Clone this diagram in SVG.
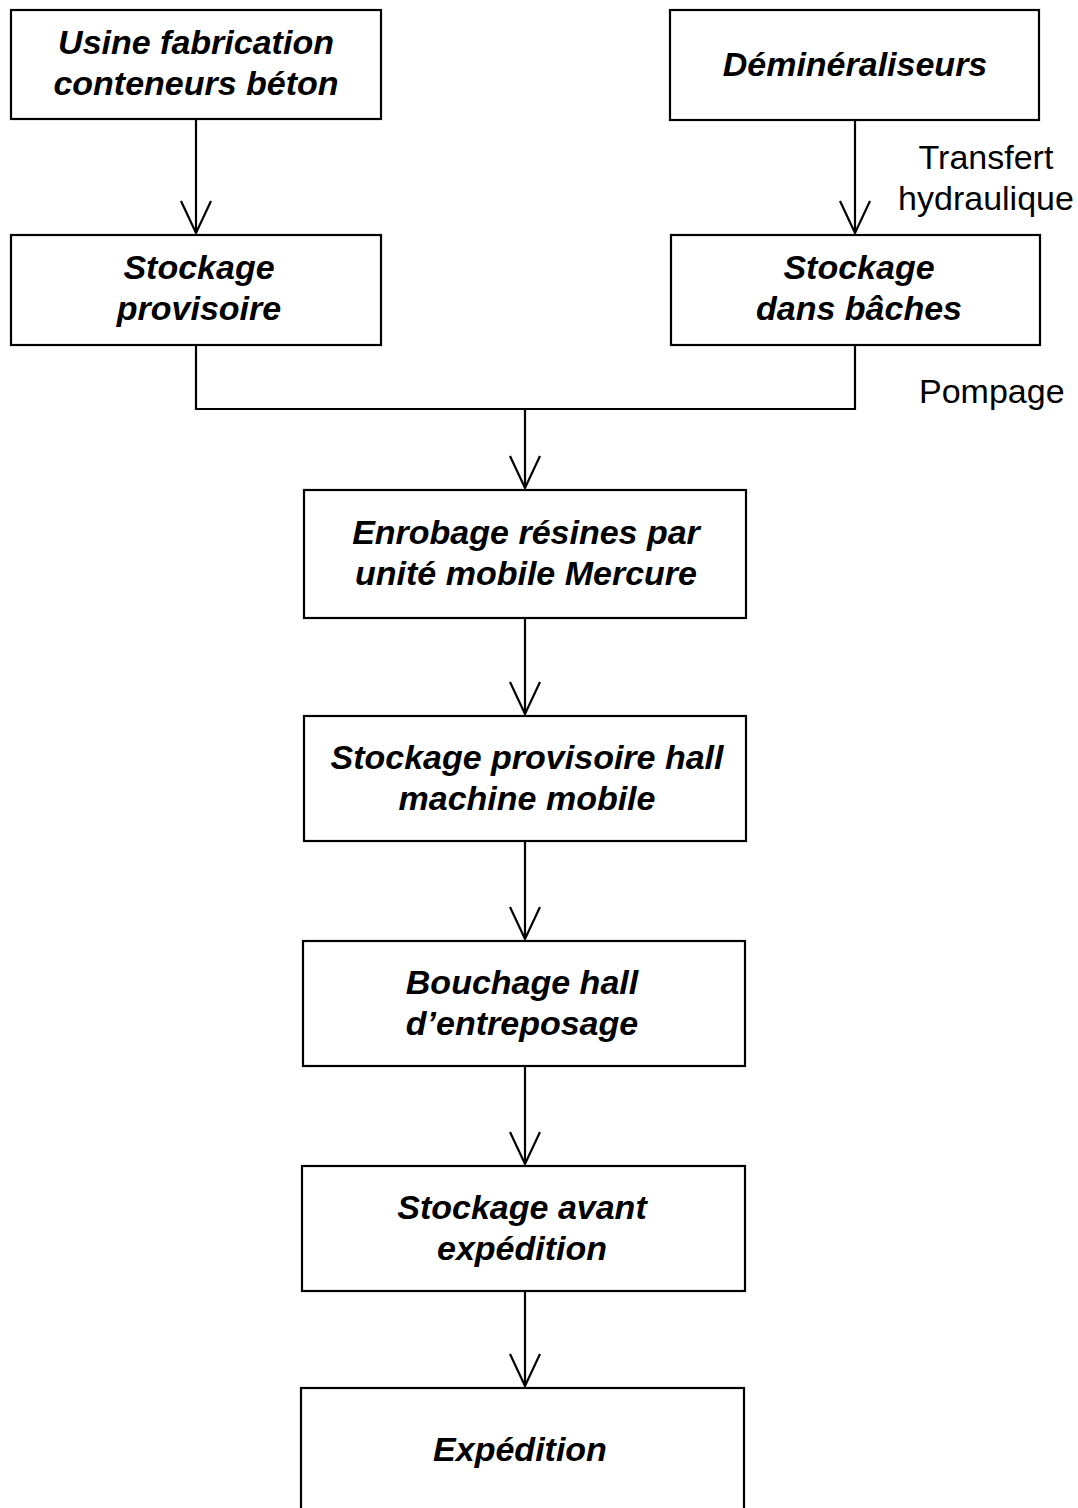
<svg xmlns="http://www.w3.org/2000/svg" width="1078" height="1508" viewBox="0 0 1078 1508">
  <style>
    .box { fill: #ffffff; stroke: #000000; stroke-width: 2.2; }
    .lbl { font-family: "Liberation Sans", Arial, sans-serif; font-size: 34px; font-weight: bold; font-style: italic; text-anchor: middle; fill: #000000; }
    .note { font-family: "Liberation Sans", Arial, sans-serif; font-size: 34px; fill: #000000; }
    .wire { fill: none; stroke: #000000; stroke-width: 2.2; }
  </style>
  <defs>
    <marker id="vhead" markerUnits="userSpaceOnUse" markerWidth="34" markerHeight="36" refX="17" refY="33" orient="0" viewBox="0 0 34 36">
      <path d="M2,1 L17,33 L32,1" fill="none" stroke="#000000" stroke-width="2.2"/>
    </marker>
  </defs>
  <rect width="1078" height="1508" fill="#ffffff"/>

  <g id="connectors">
    <path class="wire" d="M196,119 V233" marker-end="url(#vhead)"/>
    <path class="wire" d="M855,120 V233" marker-end="url(#vhead)"/>
    <path class="wire" d="M196,345 V409 H855 V345"/>
    <path class="wire" d="M525,409 V488" marker-end="url(#vhead)"/>
    <path class="wire" d="M525,618 V714" marker-end="url(#vhead)"/>
    <path class="wire" d="M525,841 V939" marker-end="url(#vhead)"/>
    <path class="wire" d="M525,1066 V1164" marker-end="url(#vhead)"/>
    <path class="wire" d="M525,1291 V1386" marker-end="url(#vhead)"/>
    <text class="note" x="986" y="169" text-anchor="middle">Transfert</text>
    <text class="note" x="986" y="210" text-anchor="middle">hydraulique</text>
    <text class="note" x="919" y="403">Pompage</text>
  </g>

  <g id="usine">
    <rect class="box" x="11" y="10" width="370" height="109"/>
    <text class="lbl" x="196" y="54">Usine fabrication</text>
    <text class="lbl" x="196" y="95">conteneurs béton</text>
  </g>
  <g id="demineraliseurs">
    <rect class="box" x="670" y="10" width="369" height="110"/>
    <text class="lbl" x="855" y="76">Déminéraliseurs</text>
  </g>
  <g id="stockage-provisoire">
    <rect class="box" x="11" y="235" width="370" height="110"/>
    <text class="lbl" x="199" y="279">Stockage</text>
    <text class="lbl" x="199" y="320">provisoire</text>
  </g>
  <g id="stockage-baches">
    <rect class="box" x="671" y="235" width="369" height="110"/>
    <text class="lbl" x="859" y="279">Stockage</text>
    <text class="lbl" x="859" y="320">dans bâches</text>
  </g>
  <g id="enrobage">
    <rect class="box" x="304" y="490" width="442" height="128"/>
    <text class="lbl" x="526" y="544">Enrobage résines par</text>
    <text class="lbl" x="526" y="585">unité mobile Mercure</text>
  </g>
  <g id="stockage-hall">
    <rect class="box" x="304" y="716" width="442" height="125"/>
    <text class="lbl" x="527" y="769">Stockage provisoire hall</text>
    <text class="lbl" x="527" y="810">machine mobile</text>
  </g>
  <g id="bouchage">
    <rect class="box" x="303" y="941" width="442" height="125"/>
    <text class="lbl" x="522" y="994">Bouchage hall</text>
    <text class="lbl" x="522" y="1035">d’entreposage</text>
  </g>
  <g id="stockage-avant">
    <rect class="box" x="302" y="1166" width="443" height="125"/>
    <text class="lbl" x="522" y="1219">Stockage avant</text>
    <text class="lbl" x="522" y="1260">expédition</text>
  </g>
  <g id="expedition">
    <rect class="box" x="301" y="1388" width="443" height="130"/>
    <text class="lbl" x="520" y="1461">Expédition</text>
  </g>
</svg>
